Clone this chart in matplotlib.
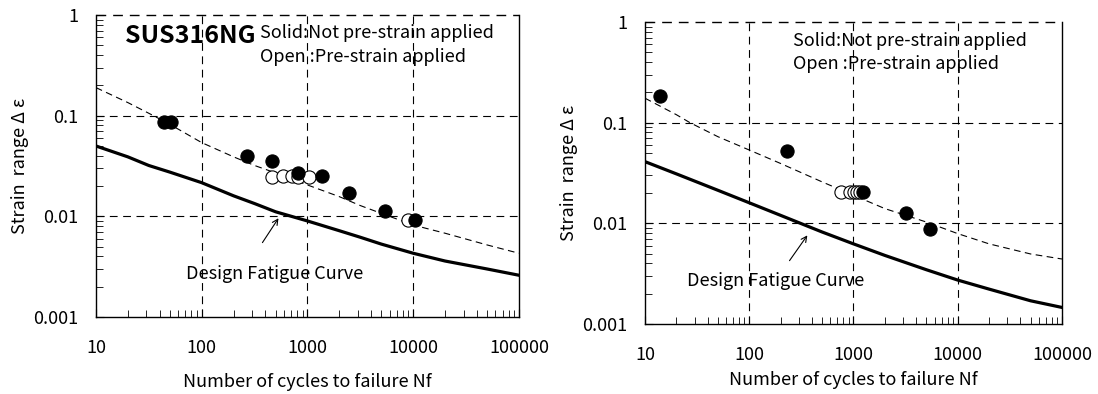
import matplotlib.pyplot as plt
from matplotlib.ticker import LogLocator, NullFormatter, FixedLocator, FixedFormatter

plt.rcParams['font.family'] = ['Noto Sans CJK JP', 'DejaVu Sans']

# ---- left panel (SUS316NG) ----
l_solid_n = [44, 51, 269, 458, 818, 1361, 2483, 5373, 10500]
l_solid_de = [0.087, 0.087, 0.040, 0.0357, 0.0268, 0.0254, 0.0170, 0.0114, 0.0091]
l_open_n = [461, 587, 713, 813, 1033, 9000]
l_open_de = [0.0248, 0.0252, 0.0250, 0.0248, 0.0245, 0.0092]
l_design_n = [10, 20, 31.6, 50, 100, 200, 316, 500, 1000, 2000, 3160, 5000,
              10000, 20000, 50000, 100000]
l_design_de = [0.050, 0.039, 0.032, 0.0275, 0.0216, 0.0160, 0.0134, 0.0111,
               0.0090, 0.0072, 0.0062, 0.0053, 0.0043, 0.0036, 0.0030, 0.0026]
l_mean_n = [10, 20, 35, 50, 100, 200, 316, 500, 1000, 2000, 3160, 5000,
            10000, 20000, 50000, 100000]
l_mean_de = [0.19, 0.135, 0.10, 0.082, 0.054, 0.039, 0.032, 0.027, 0.0205,
             0.0157, 0.0128, 0.0107, 0.0082, 0.0068, 0.0052, 0.0043]

# ---- right panel ----
r_solid_n = [13.9, 232, 1236, 3190, 5380]
r_solid_de = [0.185, 0.0522, 0.0205, 0.0126, 0.0087]
r_open_n = [767, 916, 1004, 1085, 1153]
r_open_de = [0.0205, 0.0205, 0.0205, 0.0205, 0.0205]
r_design_n = [10, 20, 50, 100, 200, 500, 1000, 2000, 5000, 10000, 20000,
              50000, 100000]
r_design_de = [0.041, 0.031, 0.0213, 0.016, 0.012, 0.0082, 0.00625, 0.0048,
               0.00346, 0.00273, 0.00222, 0.0017, 0.00146]
r_mean_n = [10, 20, 27, 50, 100, 200, 500, 1000, 2000, 5000, 10000, 20000,
            50000, 100000]
r_mean_de = [0.175, 0.12, 0.10, 0.0726, 0.0535, 0.0393, 0.0258, 0.019, 0.014,
             0.0103, 0.0079, 0.00625, 0.00496, 0.00442]

x_ticks = [10, 100, 1000, 10000, 100000]
x_labels = ['10', '100', '1000', '10000', '100000']
y_ticks = [0.001, 0.01, 0.1, 1]
y_labels = ['0.001', '0.01', '0.1', '1']

legend_lines = ['Solid:Not pre-strain applied', 'Open :Pre-strain applied']
FS = 13


def draw_panel(ax, mean_n, mean_de, des_n, des_de, open_n, open_de,
               solid_n, solid_de, xlabelpad):
    ax.set_xscale('log')
    ax.set_yscale('log')
    ax.set_xlim(10, 100000)
    ax.set_ylim(0.001, 1)

    dash = (0, (7, 5))
    for xv in x_ticks[1:-1]:
        ax.axvline(xv, color='black', lw=0.8, ls=dash, zorder=1)
    for yv in y_ticks[1:-1]:
        ax.axhline(yv, color='black', lw=0.8, ls=dash, zorder=1)
    ax.axhline(1, color='black', lw=1.0, ls=dash, zorder=1, clip_on=False)

    ax.plot(mean_n, mean_de, color='black', lw=0.8, ls=(0, (6, 4)), zorder=2)
    ax.plot(des_n, des_de, color='black', lw=2.3, zorder=2)
    ax.plot(open_n, open_de, 'o', ms=9.5, mfc='white', mec='black',
            mew=0.8, zorder=3)
    ax.plot(solid_n, solid_de, 'o', ms=9.5, mfc='black', mec='black',
            mew=0.8, zorder=4)

    ax.spines['top'].set_visible(False)
    for s in ['left', 'bottom', 'right']:
        ax.spines[s].set_linewidth(1.0)

    ax.xaxis.set_major_locator(FixedLocator(x_ticks))
    ax.xaxis.set_major_formatter(FixedFormatter(x_labels))
    ax.yaxis.set_major_locator(FixedLocator(y_ticks))
    ax.yaxis.set_major_formatter(FixedFormatter(y_labels))
    ax.xaxis.set_minor_locator(LogLocator(base=10, subs=range(2, 10)))
    ax.yaxis.set_minor_locator(LogLocator(base=10, subs=range(2, 10)))
    ax.xaxis.set_minor_formatter(NullFormatter())
    ax.yaxis.set_minor_formatter(NullFormatter())
    ax.tick_params(which='both', direction='in', top=False, right=False,
                   labelsize=FS)
    ax.tick_params(which='major', length=6)
    ax.tick_params(which='minor', length=5)
    ax.tick_params(axis='x', which='major', pad=16)
    ax.tick_params(axis='y', which='major', pad=13)

    ax.set_xlabel('Number of cycles to failure Nf', fontsize=FS,
                  labelpad=xlabelpad)
    ax.set_ylabel('Strain  range Δ ε', fontsize=FS, labelpad=3)


fig = plt.figure(figsize=(10.98, 3.94), dpi=100)
ax1 = fig.add_axes([0.0874, 0.1954, 0.3852, 0.7665])
ax2 = fig.add_axes([0.5874, 0.1777, 0.3798, 0.7665])

draw_panel(ax1, l_mean_n, l_mean_de, l_design_n, l_design_de,
           l_open_n, l_open_de, l_solid_n, l_solid_de, 11)
draw_panel(ax2, r_mean_n, r_mean_de, r_design_n, r_design_de,
           r_open_n, r_open_de, r_solid_n, r_solid_de, 5)

ax1.text(0.069, 0.93, 'SUS316NG', transform=ax1.transAxes, fontsize=18,
         fontweight='bold', va='center', ha='left')
ax1.text(0.388, 0.94, legend_lines[0], transform=ax1.transAxes, fontsize=FS,
         va='center', ha='left')
ax1.text(0.388, 0.861, legend_lines[1], transform=ax1.transAxes, fontsize=FS,
         va='center', ha='left')
ax2.text(0.354, 0.938, legend_lines[0], transform=ax2.transAxes, fontsize=FS,
         va='center', ha='left')
ax2.text(0.354, 0.86, legend_lines[1], transform=ax2.transAxes, fontsize=FS,
         va='center', ha='left')

ax1.annotate('', xy=(550, 0.0101), xytext=(363, 0.0052),
             arrowprops=dict(arrowstyle='->', color='black', lw=0.8))
ax1.text(0.213, 0.142, 'Design Fatigue Curve', transform=ax1.transAxes,
         fontsize=FS, va='center', ha='left')
ax2.annotate('', xy=(374, 0.0080), xytext=(235, 0.00404),
             arrowprops=dict(arrowstyle='->', color='black', lw=0.8))
ax2.text(0.10, 0.142, 'Design Fatigue Curve', transform=ax2.transAxes,
         fontsize=FS, va='center', ha='left')

fig.savefig('out.png', dpi=100)
